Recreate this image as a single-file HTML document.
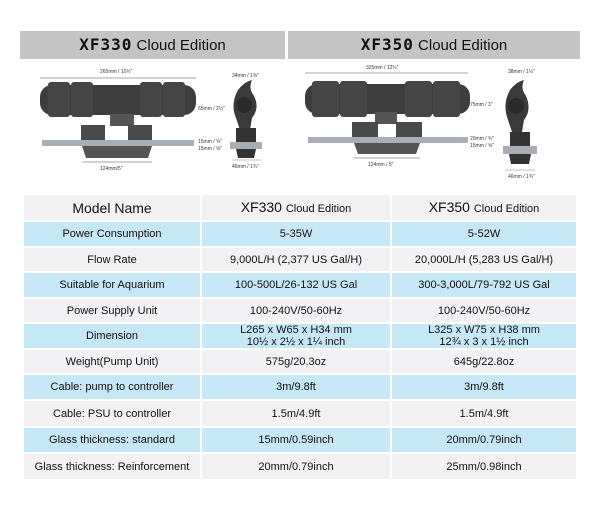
<!DOCTYPE html>
<html><head><style>
body{margin:0;width:600px;height:512px;background:#fff;font-family:"Liberation Sans","DejaVu Sans",sans-serif;position:relative;overflow:hidden}
.hb{position:absolute;top:31px;height:28px;background:#c4c4c4;text-align:center;line-height:28px;font-size:15px;color:#111}
.hb b{font-family:"DejaVu Sans Mono",monospace;font-size:16px;letter-spacing:1px}
table{position:absolute;left:22px;top:193px;width:554px;border-collapse:collapse;table-layout:fixed}
td{text-align:center;font-size:11px;color:#111;border:2px solid #fff;padding:0;line-height:12px}
tr.g td{background:#f2f2f4}
tr.b td{background:#c6e7f6}
</style></head><body>
<div class="hb" style="left:20px;width:265px"><b>XF330</b> Cloud Edition</div>
<div class="hb" style="left:288px;width:292px"><b>XF350</b> Cloud Edition</div>
<svg style="position:absolute;left:0;top:60px" width="600" height="130">
<g font-size="5" fill="#333" font-family="Liberation Sans">
<line x1="40" y1="18" x2="196" y2="18" stroke="#888" stroke-width="0.7"/>
<text x="100" y="13">265mm / 10½"</text>
<rect x="40" y="25" width="156" height="30" rx="12" fill="#3d3d3d"/>
<rect x="48" y="22" width="22" height="35" rx="3" fill="#454545"/><rect x="71" y="22" width="22" height="35" rx="3" fill="#454545"/>
<rect x="140" y="22" width="22" height="35" rx="3" fill="#454545"/><rect x="163" y="22" width="22" height="35" rx="3" fill="#454545"/>
<rect x="110" y="54" width="24" height="12" fill="#555"/>
<rect x="81" y="65" width="24" height="15" fill="#4a4a4a"/>
<rect x="128" y="65" width="24" height="15" fill="#4a4a4a"/>
<rect x="42" y="80" width="152" height="6" fill="#a9aeb6"/>
<path d="M82 86 H152 L148 98 H86 Z" fill="#555"/>
<line x1="82" y1="102" x2="152" y2="102" stroke="#888" stroke-width="0.7"/>
<text x="100" y="110">124mm/5"</text>
<text x="198" y="50">65mm / 2½"</text>
<text x="198" y="83">15mm / ⅝"</text><text x="198" y="90">15mm / ⅝"</text>
<path d="M238 30 Q244 22 252 20 Q248 28 254 36 Q260 48 252 58 L250 70 L240 70 L236 58 Q230 44 238 30 Z" fill="#3a3a3a"/>
<circle cx="244" cy="45" r="8" fill="#2a2a2a"/>
<rect x="236" y="68" width="20" height="14" fill="#333"/>
<rect x="230" y="82" width="32" height="7" fill="#a9aeb6"/>
<path d="M236 89 H256 L254 98 H238 Z" fill="#333"/>
<line x1="232" y1="100" x2="262" y2="100" stroke="#888" stroke-width="0.6"/>
<text x="232" y="17">34mm / 1⅜"</text><text x="232" y="108">46mm / 1¾"</text>
<line x1="305" y1="13" x2="468" y2="13" stroke="#888" stroke-width="0.7"/>
<text x="366" y="9">325mm / 12¾"</text>
<rect x="305" y="24" width="165" height="30" rx="12" fill="#3d3d3d"/>
<rect x="312" y="21" width="27" height="36" rx="3" fill="#454545"/><rect x="340" y="21" width="27" height="36" rx="3" fill="#454545"/>
<rect x="405" y="21" width="27" height="36" rx="3" fill="#454545"/><rect x="433" y="21" width="27" height="36" rx="3" fill="#454545"/>
<rect x="375" y="52" width="22" height="12" fill="#555"/>
<rect x="352" y="62" width="26" height="15" fill="#4a4a4a"/>
<rect x="396" y="62" width="26" height="15" fill="#4a4a4a"/>
<rect x="308" y="77" width="160" height="6" fill="#a9aeb6"/>
<path d="M354 83 H420 L416 94 H358 Z" fill="#555"/>
<line x1="354" y1="98" x2="420" y2="98" stroke="#888" stroke-width="0.7"/>
<text x="368" y="106">124mm / 5"</text>
<text x="470" y="46">75mm / 3"</text>
<text x="470" y="80">20mm / ¾"</text><text x="470" y="87">15mm / ⅝"</text>
<path d="M510 30 Q516 22 524 20 Q520 28 526 36 Q532 50 524 60 L522 72 L512 72 L508 60 Q502 44 510 30 Z" fill="#3a3a3a"/>
<circle cx="516" cy="46" r="8" fill="#2a2a2a"/>
<rect x="510" y="72" width="20" height="14" fill="#333"/>
<rect x="503" y="86" width="34" height="8" fill="#a9aeb6"/>
<path d="M509 94 H531 L529 104 H511 Z" fill="#333"/>
<line x1="505" y1="110" x2="535" y2="110" stroke="#888" stroke-width="0.6"/>
<text x="508" y="13">38mm / 1½"</text><text x="508" y="118">46mm / 1¾"</text>
</g></svg>
<table>
<colgroup><col style="width:178px"><col style="width:190px"><col style="width:186px"></colgroup>
<tr class="g" style="height:27px"><td style="font-size:14px">Model Name</td><td style="font-size:14px">XF330 <span style="font-size:11px">Cloud Edition</span></td><td style="font-size:14px">XF350 <span style="font-size:11px">Cloud Edition</span></td></tr>
<tr class="b" style="height:26px"><td>Power Consumption</td><td>5-35W</td><td>5-52W</td></tr>
<tr class="g" style="height:25px"><td>Flow Rate</td><td>9,000L/H (2,377 US Gal/H)</td><td>20,000L/H (5,283 US Gal/H)</td></tr>
<tr class="b" style="height:26px"><td>Suitable for Aquarium</td><td>100-500L/26-132 US Gal</td><td>300-3,000L/79-792 US Gal</td></tr>
<tr class="g" style="height:25px"><td>Power Supply Unit</td><td>100-240V/50-60Hz</td><td>100-240V/50-60Hz</td></tr>
<tr class="b" style="height:26px"><td>Dimension</td><td>L265 x W65 x H34 mm<br>10½ x 2½ x 1¼ inch</td><td>L325 x W75 x H38 mm<br>12¾ x 3 x 1½ inch</td></tr>
<tr class="g" style="height:25px"><td>Weight(Pump Unit)</td><td>575g/20.3oz</td><td>645g/22.8oz</td></tr>
<tr class="b" style="height:26px"><td>Cable: pump to controller</td><td>3m/9.8ft</td><td>3m/9.8ft</td></tr>
<tr class="g" style="height:27px"><td>Cable: PSU to controller</td><td>1.5m/4.9ft</td><td>1.5m/4.9ft</td></tr>
<tr class="b" style="height:26px"><td>Glass thickness: standard</td><td>15mm/0.59inch</td><td>20mm/0.79inch</td></tr>
<tr class="g" style="height:27px"><td>Glass thickness: Reinforcement</td><td>20mm/0.79inch</td><td>25mm/0.98inch</td></tr>
</table>
</body></html>
